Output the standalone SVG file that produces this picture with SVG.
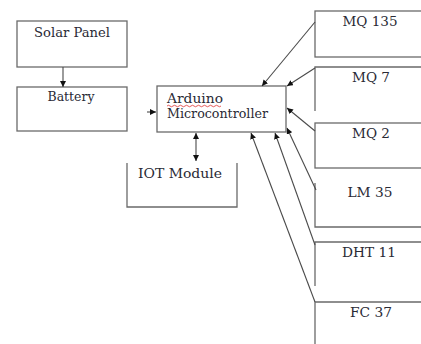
<svg xmlns="http://www.w3.org/2000/svg" width="421" height="344" viewBox="0 0 421 344">
<defs>
<style>
.box{fill:#fff;stroke:#6a6a6a;stroke-width:1.3}
.open{fill:none;stroke:#6a6a6a;stroke-width:1.3}
.t{font-family:'DejaVu Serif','Liberation Serif',serif;font-size:12.5px;fill:#2a2a35;text-anchor:middle}
.c{stroke:#4a4a4a;stroke-width:1.1;fill:none}
</style>
<marker id="ah" viewBox="0 0 10 10" refX="10" refY="5" markerWidth="6" markerHeight="6" orient="auto-start-reverse" markerUnits="userSpaceOnUse">
<path d="M0,0 L10,5 L0,10 z" fill="#111"/>
</marker>
</defs>
<rect width="421" height="344" fill="#fff"/>
<g id="solar-panel"><rect class="box" x="17" y="21" width="110" height="46"/><text class="t" x="72" y="37" textLength="76" lengthAdjust="spacingAndGlyphs">Solar Panel</text></g>
<g id="battery"><rect class="box" x="17" y="87" width="110" height="44"/><text class="t" x="71" y="101" textLength="47" lengthAdjust="spacingAndGlyphs">Battery</text></g>
<g id="arduino"><rect class="box" x="157" y="86" width="129" height="46"/><text class="t" x="167" y="103" style="text-anchor:start" textLength="56" lengthAdjust="spacingAndGlyphs">Arduino</text><path d="M167,106 q1.5,-1.5 3,0 t3,0 t3,0 t3,0 t3,0 t3,0 t3,0 t3,0 t3,0 t3,0 t3,0 t3,0 t3,0 t3,0 t3,0 t3,0 t3,0 t3,0" fill="none" stroke="#e03030" stroke-width="0.8"/><text class="t" x="167" y="118" style="text-anchor:start" textLength="101" lengthAdjust="spacingAndGlyphs">Microcontroller</text></g>
<g id="iot-module"><path class="open" d="M127,163 V207 H237 V163"/><text class="t" x="180" y="178" textLength="84" lengthAdjust="spacingAndGlyphs">IOT Module</text></g>
<g id="mq135"><rect class="box" x="315" y="11" width="120" height="46"/><text class="t" x="370" y="26" textLength="55" lengthAdjust="spacingAndGlyphs">MQ 135</text></g>
<g id="mq7"><path class="open" d="M315,111 V67 H430"/><text class="t" x="371" y="82" textLength="38" lengthAdjust="spacingAndGlyphs">MQ 7</text></g>
<g id="mq2"><rect class="box" x="315" y="123" width="120" height="45"/><text class="t" x="371" y="138" textLength="38" lengthAdjust="spacingAndGlyphs">MQ 2</text></g>
<g id="lm35"><path class="open" d="M315,183 V227 H430"/><text class="t" x="370" y="197" textLength="45" lengthAdjust="spacingAndGlyphs">LM 35</text></g>
<g id="dht11"><path class="open" d="M315,286 V242 H430"/><text class="t" x="369" y="257" textLength="54" lengthAdjust="spacingAndGlyphs">DHT 11</text></g>
<g id="fc37"><path class="open" d="M315,350 V302 H430"/><text class="t" x="371" y="317" textLength="42" lengthAdjust="spacingAndGlyphs">FC 37</text></g>
<g id="connectors">
<line class="c" x1="63" y1="67" x2="63" y2="87" marker-end="url(#ah)"/>
<line class="c" x1="147" y1="112" x2="156" y2="112" marker-end="url(#ah)"/>
<line class="c" x1="196" y1="133" x2="196" y2="161" marker-start="url(#ah)" marker-end="url(#ah)"/>
<line class="c" x1="315" y1="22" x2="262" y2="86" marker-end="url(#ah)"/>
<line class="c" x1="315" y1="68" x2="287" y2="86" marker-end="url(#ah)"/>
<line class="c" x1="315" y1="131" x2="287" y2="108" marker-end="url(#ah)"/>
<line class="c" x1="316" y1="190" x2="287" y2="128" marker-end="url(#ah)"/>
<line class="c" x1="315" y1="245" x2="275" y2="133" marker-end="url(#ah)"/>
<line class="c" x1="315" y1="302" x2="251" y2="133" marker-end="url(#ah)"/>
</g>
</svg>
